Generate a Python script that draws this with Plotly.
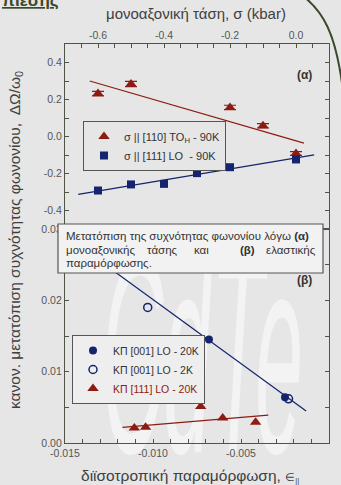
import base64
import plotly.graph_objects as go

# ---------------- data: top panel (uniaxial stress, kbar) ----------------
sigma_to_x = [-0.6, -0.5, -0.2, -0.1, 0.0]
sigma_to_y = [0.232, 0.284, 0.157, 0.058, -0.092]
sigma_to_err = [0.012, 0.014, 0.012, 0.012, 0.010]
sigma_lo_x = [-0.6, -0.5, -0.4, -0.3, -0.2, 0.0]
sigma_lo_y = [-0.292, -0.259, -0.256, -0.198, -0.166, -0.124]
fit_to_x = [-0.625, 0.024]
fit_to_y = [0.300, -0.036]
fit_lo_x = [-0.66, 0.055]
fit_lo_y = [-0.313, -0.099]

# ---------------- data: bottom panel (biaxial strain) ----------------
kp001_20k_x = [-0.00682, -0.0025]
kp001_20k_y = [0.0145, 0.0064]
kp001_2k_x = [-0.0103, -0.0023]
kp001_2k_y = [0.0190, 0.0062]
kp111_20k_x = [-0.01106, -0.01042, -0.00729, -0.00604, -0.00417]
kp111_20k_y = [0.0021, 0.0022, 0.0051, 0.0035, 0.0029]
fit001_x = [-0.0135, -0.0013]
fit001_y = [0.0264, 0.0045]
fit111_x = [-0.01174, -0.00345]
fit111_y = [0.0022, 0.0039]

# ---------------- tick labels ----------------
sigma_ticks = [-0.6, -0.4, -0.2, 0.0]
sigma_labels = ["-0.6", "-0.4", "-0.2", "0.0"]
shift_ticks = [-0.4, -0.2, 0.0, 0.2, 0.4]
shift_labels = ["-0.4", "-0.2", "0.0", "0.2", "0.4"]
eps_ticks = [-0.015, -0.010, -0.005, 0.0]
eps_labels = ["-0.015", "-0.010", "-0.005", "0.000"]
norm_ticks = [0.0, 0.01, 0.02, 0.03]
norm_labels = ["0.00", "0.01", "0.02", "0.03"]

RED = "#8e1b12"
NAVY = "#14246e"
AX = "#4d5545"
BG = "#e6e6e6"
FONT = "Arial, Liberation Sans, sans-serif"

# pixel -> paper helpers (plot area 65..329 x 44..443)
L, R, T, B = 65, 329, 44, 443
def px(x):
    return (x - L) / (R - L)
def py(y):
    return (B - y) / (B - T)

fig = go.Figure()

# top panel
fig.add_trace(go.Scatter(x=fit_to_x, y=fit_to_y, mode="lines", line=dict(color=RED, width=1.2),
                         xaxis="x2", yaxis="y2", showlegend=False, hoverinfo="skip"))
fig.add_trace(go.Scatter(x=fit_lo_x, y=fit_lo_y, mode="lines", line=dict(color=NAVY, width=1.2),
                         xaxis="x2", yaxis="y2", showlegend=False, hoverinfo="skip"))
fig.add_trace(go.Scatter(x=sigma_to_x, y=sigma_to_y, mode="markers",
                         marker=dict(symbol="triangle-up", size=10, color=RED),
                         error_y=dict(type="data", array=sigma_to_err, color=RED, thickness=1.2, width=6),
                         name="σ || [110] TO<sub>H</sub> - 90K", xaxis="x2", yaxis="y2", legend="legend"))
fig.add_trace(go.Scatter(x=sigma_lo_x, y=sigma_lo_y, mode="markers",
                         marker=dict(symbol="square", size=8, color=NAVY),
                         name="σ || [111] LO  - 90K", xaxis="x2", yaxis="y2", legend="legend"))

# bottom panel
fig.add_trace(go.Scatter(x=fit001_x, y=fit001_y, mode="lines", line=dict(color=NAVY, width=1.2),
                         showlegend=False, hoverinfo="skip"))
fig.add_trace(go.Scatter(x=fit111_x, y=fit111_y, mode="lines", line=dict(color=RED, width=1.2),
                         showlegend=False, hoverinfo="skip"))
fig.add_trace(go.Scatter(x=kp001_20k_x, y=kp001_20k_y, mode="markers",
                         marker=dict(symbol="circle", size=8, color=NAVY),
                         name="ΚΠ [001] LO - 20K", legend="legend2"))
fig.add_trace(go.Scatter(x=kp001_2k_x, y=kp001_2k_y, mode="markers",
                         marker=dict(symbol="circle-open", size=8, color=NAVY, line=dict(width=1.5)),
                         name="ΚΠ [001] LO - 2K", legend="legend2"))
fig.add_trace(go.Scatter(x=kp111_20k_x, y=kp111_20k_y, mode="markers",
                         marker=dict(symbol="triangle-up", size=10, color=RED),
                         name=f"<span style='color:{RED}'>ΚΠ [111] LO - 20K</span>", legend="legend2"))

def axis(**kw):
    d = dict(showline=True, linecolor=AX, linewidth=1.2, mirror="ticks", ticks="inside",
             ticklen=4, tickwidth=1, tickcolor=AX, showgrid=False, zeroline=False,
             tickfont=dict(size=10.5, color="#555555", family=FONT), tickmode="array")
    d.update(kw)
    return d

split = py(229)
fig.update_layout(
    width=341, height=485,
    margin=dict(l=L, r=341 - R, t=T, b=485 - B, pad=0),
    paper_bgcolor=BG, plot_bgcolor="rgba(0,0,0,0)",
    font=dict(family=FONT, color="#333333"),
    xaxis=axis(domain=[0, 1], anchor="y", range=[-0.015, 0.0], tickvals=eps_ticks, ticktext=eps_labels,
               minor=dict(ticks="inside", ticklen=4, tickcolor=AX, tickmode="linear", tick0=-0.015, dtick=0.001)),
    yaxis=axis(domain=[0, split], anchor="x", range=[0, 0.03], tickvals=norm_ticks, ticktext=norm_labels,
               minor=dict(ticks="inside", ticklen=4, tickcolor=AX, tickmode="linear", tick0=0, dtick=0.005)),
    xaxis2=axis(domain=[0, 1], anchor="y2", side="top", range=[-0.7, 0.1], tickvals=sigma_ticks, ticktext=sigma_labels,
                minor=dict(ticks="inside", ticklen=4, tickcolor=AX, tickmode="linear", tick0=-0.7, dtick=0.05)),
    yaxis2=axis(domain=[split, 1], anchor="x2", range=[-0.5, 0.5], tickvals=shift_ticks, ticktext=shift_labels,
                minor=dict(ticks="inside", ticklen=4, tickcolor=AX, tickmode="linear", tick0=-0.5, dtick=0.1)),
    legend=dict(x=px(83), y=py(121), xanchor="left", yanchor="top", bgcolor=BG, bordercolor="#555555",
                borderwidth=1, font=dict(size=11, color="#333333", family=FONT), tracegroupgap=0, itemwidth=30),
    legend2=dict(x=px(72), y=py(335), xanchor="left", yanchor="top", bgcolor="#eeeeee", bordercolor="#555555",
                 borderwidth=1, font=dict(size=10.5, color="#333333", family=FONT), tracegroupgap=0, itemwidth=30),
    showlegend=True,
)

# watermark (stretched italic text as svg image, below data)
svg = ('<svg xmlns="http://www.w3.org/2000/svg" width="255" height="76" viewBox="0 18 255 76" '
       'preserveAspectRatio="none"><text x="2" y="92" font-family="Liberation Sans, Arial" '
       'font-style="italic" font-size="100" fill="#f3f3f3">CdTe</text></svg>')
src = "data:image/svg+xml;base64," + base64.b64encode(svg.encode("utf-8")).decode("ascii")
fig.add_layout_image(dict(source=src, xref="paper", yref="paper", x=px(100), y=py(242),
                          sizex=(318 - 100) / (R - L), sizey=(458 - 242) / (B - T),
                          xanchor="left", yanchor="top", sizing="stretch", layer="below"))

# text box
fig.add_shape(type="rect", xref="paper", yref="paper", x0=px(58), x1=px(323), y0=py(273), y1=py(224),
              fillcolor="#f2f2f2", line=dict(color="#555555", width=1.2), layer="above")

box_font = dict(size=11.5, color="#333333", family=FONT)
def note(text, x, y, xanchor="left", font=None, **kw):
    fig.add_annotation(text=text, xref="paper", yref="paper", x=x, y=y, xanchor=xanchor,
                       yanchor="middle", showarrow=False, font=font or box_font, **kw)

note("Μετατόπιση της συχνότητας φωνονίου λόγω <b>(α)</b>", px(64), py(236))
note("μονοαξονικής", px(64), py(250))
note("τάσης", px(145), py(250))
note("και", px(192), py(250))
note("<b>(β)</b>", px(238), py(250))
note("ελαστικής", px(318), py(250), xanchor="right")
note("παραμόρφωσης.", px(64), py(263))

# panel labels
note("<b>(α)</b>", px(304), py(75), xanchor="center", font=dict(size=12, color="#333333", family=FONT))
note("<b>(β)</b>", px(304), py(280), xanchor="center", font=dict(size=12, color="#333333", family=FONT))

# axis titles
note("μονοαξονική τάση, σ (kbar)", px(196), py(14), xanchor="center",
     font=dict(size=15, color="#404040", family=FONT))
note("διϊσοτροπική παραμόρφωση, <span style='font-size:11px'>∈<sub>||</sub></span>", px(190), py(476),
     xanchor="center", font=dict(size=15.5, color="#404040", family=FONT))
note("κανον. μετατόπιση συχνότητας φωνονίου,  ΔΩ/ω<sub>0</sub>", px(15), py(240), xanchor="center",
     font=dict(size=15.5, color="#404040", family=FONT), textangle=-90)

# cut-off heading at top-left
fig.add_annotation(text="<b><u>πίεσης</u></b>", xref="paper", yref="paper", x=px(61), y=py(12),
                   xanchor="right", yanchor="bottom", showarrow=False,
                   font=dict(size=17, color="#3b4a2b", family=FONT))

# decorative arc at top-right
p = lambda x, y: f"{px(x):.4f},{py(y):.4f}"
fig.add_shape(type="path", xref="paper", yref="paper",
              path=f"M {p(303,-4)} C {p(321,10)} {p(337,30)} {p(344,100)}",
              line=dict(color="#3b4a2b", width=2), layer="above")

fig.write_html("out.html", config={"displayModeBar": False},
               post_script="document.body.style.margin='0';")
